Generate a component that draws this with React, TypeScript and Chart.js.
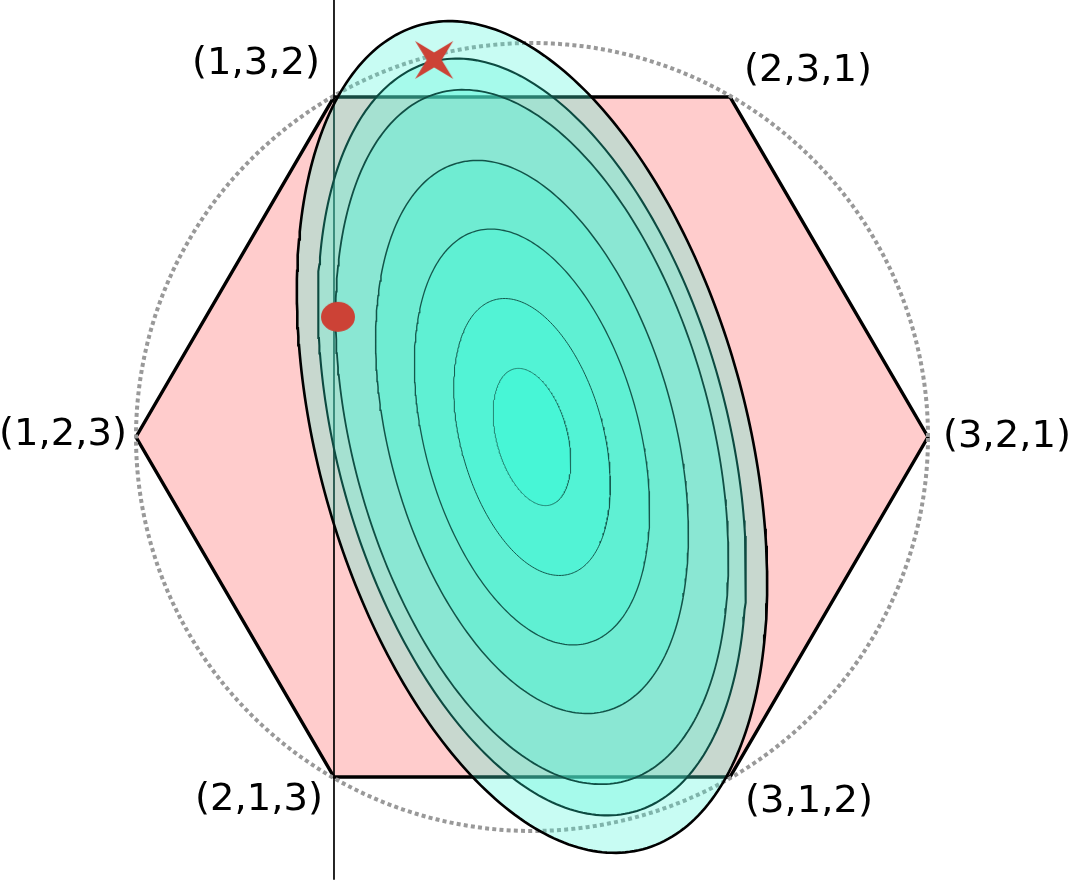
import React, { useEffect, useRef } from 'react';
import { Chart, registerables } from 'chart.js';

Chart.register(...registerables);

// ---- data (units: hexagon circumradius = 1, centre at origin) ----
const VERTEX_LABELS = ['(1,3,2)', '(2,3,1)', '(3,2,1)', '(3,1,2)', '(2,1,3)', '(1,2,3)'];
const VERTEX_X = [-0.5, 0.5, 1, 0.5, -0.5, -1];
const VERTEX_Y = [0.863, 0.863, 0, -0.863, -0.863, 0];
const CIRCLE_RADIUS = 1;
const VLINE_X = [-0.5, -0.5];
const VLINE_Y = [1.12, -1.124];
const ELLIPSE_CENTER = [0, 0];
const ELLIPSE_A = 1.083;
const ELLIPSE_B = 0.542;
const ELLIPSE_TILT_DEG = 15;
const CONTOUR_SCALES = [1, 0.91, 0.835, 0.665, 0.5, 0.333, 0.165];
const STAR_POINT = [-0.247, 0.957];
const DOT_POINT = [-0.49, 0.305];

// ---- style ----
const X_RANGE = [-1.3434, 1.3611];
const Y_RANGE = [-1.132, 1.1091];
const CONTOUR_FILLS = [
  'rgba(72,244,214,0.3)',
  'rgba(85,244,216,0.3)',
  'rgba(75,245,216,0.3)',
  'rgba(50,249,210,0.3)',
  'rgba(58,250,215,0.3)',
  'rgba(52,252,218,0.3)',
  'rgba(48,254,220,0.3)',
];
const CONTOUR_LINE_COLORS = ['#000000', '#0d4a41', '#104f45', '#125449', '#14584d', '#14584d', '#1a6a5c'];
const CONTOUR_LINE_WIDTHS = [2.6, 2.1, 1.8, 1.5, 1.3, 1.0, 0.8];
const LABEL_DX = [-14, 14, 15, 15, -11, -9];
const LABEL_DY = [-23, -16, 10, 35, 33, 8];
const LABEL_ALIGN: CanvasTextAlign[] = ['right', 'left', 'left', 'left', 'right', 'right'];
const RED = '#cc4236';

function closedPolygon(xs: number[], ys: number[]) {
  const pts = xs.map((x, i) => ({ x, y: ys[i] }));
  pts.push({ ...pts[0] });
  return pts;
}

function circlePoints(r: number) {
  const pts: { x: number; y: number }[] = [];
  const n = 360;
  for (let i = 0; i <= n; i++) {
    const t = (i / n) * Math.PI * 2;
    pts.push({ x: r * Math.cos(t), y: r * Math.sin(t) });
  }
  return pts;
}

function ellipsePoints(s: number) {
  const th = (ELLIPSE_TILT_DEG * Math.PI) / 180;
  const ux = -Math.sin(th), uy = Math.cos(th);
  const vx = Math.cos(th), vy = Math.sin(th);
  const a = ELLIPSE_A * s, b = ELLIPSE_B * s;
  const pts: { x: number; y: number }[] = [];
  const n = 300;
  for (let i = 0; i <= n; i++) {
    const t = (i / n) * Math.PI * 2;
    const c = Math.cos(t), sn = Math.sin(t);
    pts.push({
      x: ELLIPSE_CENTER[0] + a * c * ux + b * sn * vx,
      y: ELLIPSE_CENTER[1] + a * c * uy + b * sn * vy,
    });
  }
  return pts;
}

function makeStar(): HTMLCanvasElement {
  const cv = document.createElement('canvas');
  cv.width = 60;
  cv.height = 60;
  const ctx = cv.getContext('2d')!;
  ctx.translate(30, 30);
  ctx.fillStyle = RED;
  ctx.beginPath();
  const outer = 27, inner = 7.5;
  for (let i = 0; i < 8; i++) {
    const ang = Math.PI / 4 + (i * Math.PI) / 4;
    const r = i % 2 === 0 ? outer : inner;
    const px = r * Math.cos(ang), py = r * Math.sin(ang);
    if (i === 0) ctx.moveTo(px, py); else ctx.lineTo(px, py);
  }
  ctx.closePath();
  ctx.fill();
  return cv;
}

function makeDot(): HTMLCanvasElement {
  const cv = document.createElement('canvas');
  cv.width = 40;
  cv.height = 36;
  const ctx = cv.getContext('2d')!;
  ctx.fillStyle = RED;
  ctx.beginPath();
  ctx.ellipse(20, 18, 17, 15, 0, 0, Math.PI * 2);
  ctx.fill();
  return cv;
}

const labelPlugin = {
  id: 'vertexLabels',
  afterDatasetsDraw(chart: any) {
    const { ctx, scales } = chart;
    ctx.save();
    ctx.fillStyle = '#000';
    ctx.font = '37px "DejaVu Sans"';
    ctx.textBaseline = 'alphabetic';
    VERTEX_LABELS.forEach((lab, i) => {
      const px = scales.x.getPixelForValue(VERTEX_X[i]) + LABEL_DX[i];
      const py = scales.y.getPixelForValue(VERTEX_Y[i]) + LABEL_DY[i];
      ctx.save();
      ctx.translate(px, py);
      ctx.scale(1.04, 1);
      ctx.textAlign = LABEL_ALIGN[i];
      ctx.fillText(lab, 0, 0);
      ctx.restore();
    });
    ctx.restore();
  },
};

export default function App() {
  const ref = useRef<HTMLCanvasElement | null>(null);
  useEffect(() => {
    if (!ref.current) return;
    const layers: any[] = [];
    layers.push({
      data: closedPolygon(VERTEX_X, VERTEX_Y),
      showLine: true,
      fill: 'shape',
      backgroundColor: '#ffcccc',
      borderColor: '#000',
      borderWidth: 3.4,
      borderJoinStyle: 'miter',
      pointRadius: 0,
    });
    layers.push({
      data: circlePoints(CIRCLE_RADIUS),
      showLine: true,
      fill: false,
      borderColor: '#999999',
      borderWidth: 4,
      borderDash: [4, 3.2],
      pointRadius: 0,
    });
    layers.push({
      data: VLINE_X.map((x, i) => ({ x, y: VLINE_Y[i] })),
      showLine: true,
      fill: false,
      borderColor: '#000',
      borderWidth: 1.7,
      pointRadius: 0,
    });
    CONTOUR_SCALES.forEach((s, i) => {
      layers.push({
        data: ellipsePoints(s),
        showLine: true,
        fill: 'shape',
        backgroundColor: CONTOUR_FILLS[i],
        borderColor: CONTOUR_LINE_COLORS[i],
        borderWidth: CONTOUR_LINE_WIDTHS[i],
        pointRadius: 0,
      });
    });
    layers.push({
      data: [{ x: STAR_POINT[0], y: STAR_POINT[1] }],
      showLine: false,
      pointStyle: makeStar(),
      pointRadius: 10,
    });
    layers.push({
      data: [{ x: DOT_POINT[0], y: DOT_POINT[1] }],
      showLine: false,
      pointStyle: makeDot(),
      pointRadius: 10,
    });
    const n = layers.length;
    const datasets = layers.map((d, i) => ({ ...d, order: n - i, tension: 0, clip: false }));

    const chart = new Chart(ref.current, {
      type: 'scatter',
      data: { datasets },
      options: {
        animation: false,
        responsive: false,
        events: [],
        layout: { padding: 0, autoPadding: false },
        plugins: { legend: { display: false }, tooltip: { enabled: false } },
        scales: {
          x: { type: 'linear', display: false, min: X_RANGE[0], max: X_RANGE[1] },
          y: { type: 'linear', display: false, min: Y_RANGE[0], max: Y_RANGE[1] },
        },
      },
      plugins: [labelPlugin],
    } as any);
    return () => chart.destroy();
  }, []);

  return (
    <div style={{ position: 'absolute', left: 0, top: 0, width: 1071, height: 883, background: '#fff' }}>
      <canvas ref={ref} width={1071} height={883} style={{ display: 'block' }} />
    </div>
  );
}
